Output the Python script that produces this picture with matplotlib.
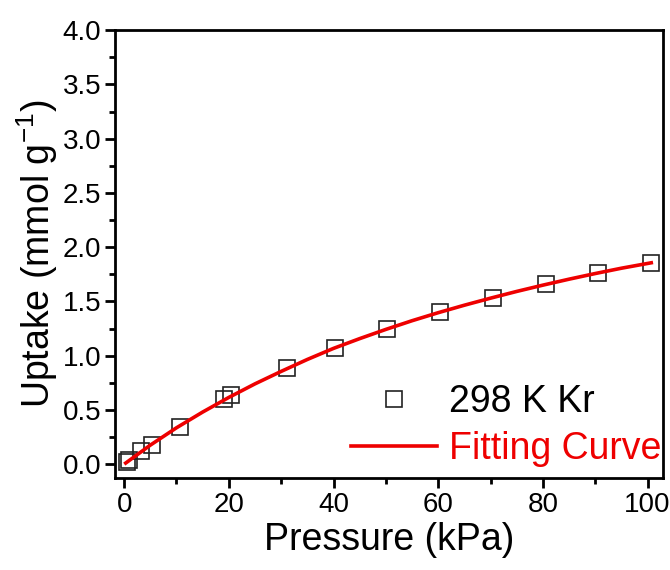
import matplotlib
matplotlib.use("Agg")
import matplotlib.pyplot as plt
from matplotlib.ticker import MultipleLocator, FormatStrFormatter

plt.rcParams['font.family'] = ['Liberation Sans', 'DejaVu Sans']
plt.rcParams['mathtext.default'] = 'regular'

# measured isotherm, 298 K Kr
pressure = [0.5, 1.0, 3.3, 5.3, 10.6, 19.1, 20.5, 31.1, 40.2, 50.2,
            60.4, 70.5, 80.6, 90.6, 100.7]
uptake = [0.016, 0.04, 0.122, 0.174, 0.346, 0.603, 0.636, 0.887, 1.07,
          1.245, 1.40, 1.534, 1.657, 1.764, 1.856]

# fitting curve
fit_p = [0.3, 5, 10, 15, 20, 25, 30, 35, 40, 45, 50, 55, 60, 65, 70,
         75, 80, 85, 90, 95, 100.7]
fit_q = [0.01, 0.175, 0.335, 0.48, 0.615, 0.74, 0.855, 0.965, 1.067, 1.157,
         1.242, 1.322, 1.396, 1.465, 1.530, 1.592, 1.650, 1.705, 1.757,
         1.806, 1.856]

fig = plt.figure(figsize=(6.7, 5.7), dpi=100)
ax = fig.add_axes([0.172, 0.161, 0.818, 0.786])

ax.plot(pressure, uptake, linestyle='none', marker='s', markersize=12,
        markerfacecolor='none', markeredgecolor='#222222',
        markeredgewidth=1.2, label='298 K Kr')
ax.plot(fit_p, fit_q, color='#ee0000', linewidth=2.6, label='Fitting Curve')

ax.set_xlim(-1.7, 103)
ax.set_ylim(-0.13, 4.0)
ax.xaxis.set_major_locator(MultipleLocator(20))
ax.xaxis.set_minor_locator(MultipleLocator(10))
ax.yaxis.set_major_locator(MultipleLocator(0.5))
ax.yaxis.set_minor_locator(MultipleLocator(0.25))
ax.yaxis.set_major_formatter(FormatStrFormatter('%.1f'))

for s in ax.spines.values():
    s.set_linewidth(2)
ax.tick_params(which='major', direction='out', length=7, width=2,
               labelsize=20, top=False, right=False, pad=3)
ax.tick_params(which='minor', direction='out', length=4, width=2,
               top=False, right=False)

ax.set_xlabel('Pressure (kPa)', fontsize=27, labelpad=3)
ax.set_ylabel('Uptake (mmol g$^{-1}$)', fontsize=27, labelpad=2)

leg = ax.legend(loc='lower right', bbox_to_anchor=(1.0, 0.02),
                frameon=False, fontsize=27,
                handlelength=2.3, handletextpad=0.32, borderaxespad=0.0,
                labelspacing=0.31, borderpad=0.05)
leg.get_texts()[1].set_color('#ee0000')

fig.savefig('out.png', dpi=100)
